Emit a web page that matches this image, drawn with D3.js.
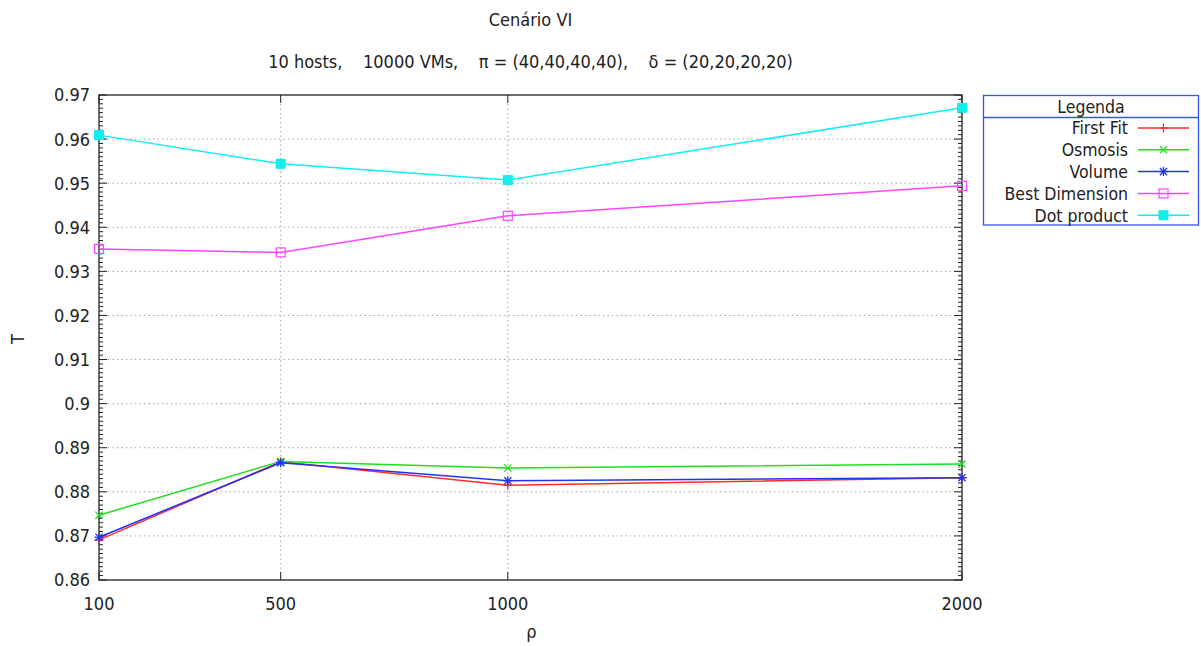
<!DOCTYPE html>
<html><head><meta charset="utf-8">
<script src="https://cdn.jsdelivr.net/npm/d3@7/dist/d3.min.js"></script>
<style>
body{margin:0;background:#fff;}
text{font-family:"DejaVu Sans Condensed","DejaVu Sans",sans-serif;font-stretch:condensed;fill:#222;}
</style></head><body>
<svg id="c" width="1201" height="646"></svg>
<script>
const xValues = [100, 500, 1000, 2000];
const yTicks = [0.86,0.87,0.88,0.89,0.9,0.91,0.92,0.93,0.94,0.95,0.96,0.97];
const firstFit = [0.8691, 0.8868, 0.8815, 0.8832];
const osmosis = [0.8747, 0.8869, 0.8854, 0.8863];
const volume = [0.8697, 0.8866, 0.8825, 0.8832];
const bestDimension = [0.9351, 0.9343, 0.9426, 0.9494];
const dotProduct = [0.9609, 0.9544, 0.9507, 0.9671];
const seriesNames = ["First Fit","Osmosis","Volume","Best Dimension","Dot product"];
const seriesValues = [firstFit, osmosis, volume, bestDimension, dotProduct];
const seriesColors = ["#ff2a2a","#22dd22","#2233ee","#ff44ff","#11eeee"];
const seriesMarkers = ["plus","cross","star","square","filled"];

const svg = d3.select("#c");
const L=99, R=962, T=95, B=580;
const x = d3.scaleLinear().domain([100,2000]).range([L,R]);
const y = d3.scaleLinear().domain([0.86,0.97]).range([B,T]);

// grid
const g = svg.append("g");
yTicks.forEach(v=>{
  if(v>0.86 && v<0.97) g.append("line").attr("x1",L).attr("x2",R).attr("y1",y(v)).attr("y2",y(v))
    .attr("stroke","#999").attr("stroke-width",1).attr("stroke-dasharray","1.3,3.2");
});
xValues.forEach(v=>{
  if(v>100 && v<2000) g.append("line").attr("x1",x(v)).attr("x2",x(v)).attr("y1",T).attr("y2",B)
    .attr("stroke","#999").attr("stroke-width",1).attr("stroke-dasharray","1.3,3.2");
});

// ticks
const minor = d3.range(0, 111).map(i=>0.86+i*0.001);
minor.forEach((v,i)=>{
  const len = (i%10===0)?8:4;
  g.append("line").attr("x1",L).attr("x2",L+len).attr("y1",y(v)).attr("y2",y(v)).attr("stroke","#222");
  g.append("line").attr("x1",R).attr("x2",R-len).attr("y1",y(v)).attr("y2",y(v)).attr("stroke","#222");
});
xValues.forEach(v=>{
  g.append("line").attr("x1",x(v)).attr("x2",x(v)).attr("y1",B).attr("y2",B-8).attr("stroke","#222");
  g.append("line").attr("x1",x(v)).attr("x2",x(v)).attr("y1",T).attr("y2",T+8).attr("stroke","#222");
});
g.append("rect").attr("x",L).attr("y",T).attr("width",R-L).attr("height",B-T)
  .attr("fill","none").attr("stroke","#222").attr("stroke-width",1.3);

// tick labels
yTicks.forEach(v=>{
  svg.append("text").attr("x",90).attr("y",y(v)).attr("dy","0.36em").attr("text-anchor","end")
    .attr("font-size",18).text(d3.format("")(+v.toFixed(2)));
});
xValues.forEach(v=>{
  svg.append("text").attr("x",x(v)).attr("y",610).attr("text-anchor","middle")
    .attr("font-size",18).text(v);
});

// titles
const cx = (L+R)/2;
svg.append("text").attr("x",cx).attr("y",26).attr("text-anchor","middle").attr("font-size",18).text("Cenário VI");
svg.append("text").attr("x",cx).attr("y",68).attr("text-anchor","middle").attr("font-size",18)
  .attr("xml:space","preserve").style("white-space","pre")
  .text("10 hosts,    10000 VMs,    π = (40,40,40,40),    δ = (20,20,20,20)");
svg.append("text").attr("transform","translate(24,339) rotate(-90)").attr("text-anchor","middle")
  .attr("font-size",18).text("T");
svg.append("text").attr("x",cx+1).attr("y",638).attr("text-anchor","middle").attr("font-size",18).text("ρ");

function marker(sel, type, cx, cy, color){
  const s=4.5;
  if(type==="plus"||type==="star"){
    sel.append("line").attr("x1",cx-s).attr("x2",cx+s).attr("y1",cy).attr("y2",cy).attr("stroke",color).attr("stroke-width",1.3);
    sel.append("line").attr("x1",cx).attr("x2",cx).attr("y1",cy-s).attr("y2",cy+s).attr("stroke",color).attr("stroke-width",1.3);
  }
  if(type==="cross"||type==="star"){
    const t=s*0.8;
    sel.append("line").attr("x1",cx-t).attr("x2",cx+t).attr("y1",cy-t).attr("y2",cy+t).attr("stroke",color).attr("stroke-width",1.3);
    sel.append("line").attr("x1",cx-t).attr("x2",cx+t).attr("y1",cy+t).attr("y2",cy-t).attr("stroke",color).attr("stroke-width",1.3);
  }
  if(type==="square"){
    sel.append("rect").attr("x",cx-4.5).attr("y",cy-4.5).attr("width",9).attr("height",9).attr("fill","none").attr("stroke",color).attr("stroke-width",1.2);
  }
  if(type==="filled"){
    sel.append("rect").attr("x",cx-5).attr("y",cy-5).attr("width",10).attr("height",10).attr("fill",color);
  }
}

const line = d3.line().x((d,i)=>x(xValues[i])).y(d=>y(d));
seriesValues.forEach((vals,k)=>{
  const sg = svg.append("g");
  sg.append("path").datum(vals).attr("d",line).attr("fill","none").attr("stroke",seriesColors[k]).attr("stroke-width",1.5);
  vals.forEach((v,i)=>marker(sg, seriesMarkers[k], x(xValues[i]), y(v), seriesColors[k]));
});

// legend
const lg = svg.append("g");
lg.append("rect").attr("x",983.5).attr("y",95.5).attr("width",215).attr("height",129.5)
  .attr("fill","#fff").attr("stroke","#3355ee").attr("stroke-width",1.3);
lg.append("line").attr("x1",983.5).attr("x2",1198.5).attr("y1",117.5).attr("y2",117.5).attr("stroke","#3355ee").attr("stroke-width",1.3);
lg.append("text").attr("x",1091).attr("y",106.5).attr("dy","0.36em").attr("text-anchor","middle").attr("font-size",17.5).text("Legenda");
seriesNames.forEach((n,k)=>{
  const yy = 128 + k*21.8;
  lg.append("text").attr("x",1128).attr("y",yy).attr("dy","0.36em").attr("text-anchor","end").attr("font-size",17.5).text(n);
  lg.append("line").attr("x1",1138).attr("x2",1189).attr("y1",yy).attr("y2",yy).attr("stroke",seriesColors[k]).attr("stroke-width",1.5);
  marker(lg, seriesMarkers[k], 1163.5, yy, seriesColors[k]);
});
</script></body></html>
